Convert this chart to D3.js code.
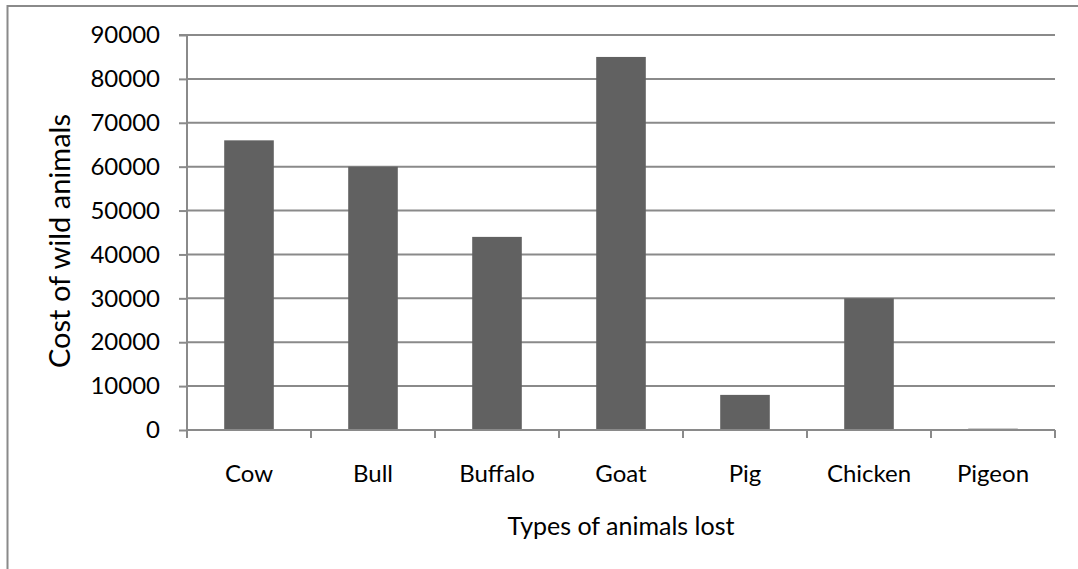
<!DOCTYPE html>
<html>
<head>
<meta charset="utf-8">
<script src="https://cdn.jsdelivr.net/npm/d3@7"></script>
<style>
  html, body { margin: 0; padding: 0; background: #fff; }
  svg { display: block; }
  text { font-family: Lato, "Open Sans", sans-serif; fill: #000; }
</style>
</head>
<body>
<svg id="chart" width="1078" height="569"></svg>
<script>
// Animal losses and their cost
const categories = ["Cow", "Bull", "Buffalo", "Goat", "Pig", "Chicken", "Pigeon"];
const costs = [66000, 60000, 44000, 85000, 8000, 30000, 300];
const yTicks = [0, 10000, 20000, 30000, 40000, 50000, 60000, 70000, 80000, 90000];
const xTitle = "Types of animals lost";
const yTitle = "Cost of wild animals";

const svg = d3.select("#chart");
const W = 1078, H = 569;
const plot = { left: 187, right: 1055, top: 35, bottom: 430 };
const gridColor = "#8a8a8a";
const barColor = "#616161";
const fontSize = 24;

// Outer chart frame (runs past the right and bottom edges)
svg.append("rect")
  .attr("x", 7.5).attr("y", 6)
  .attr("width", W + 10).attr("height", H + 10)
  .attr("fill", "none")
  .attr("stroke", gridColor)
  .attr("stroke-width", 2);

const x = d3.scaleBand()
  .domain(categories)
  .range([plot.left, plot.right])
  .paddingInner(0.6)
  .paddingOuter(0.3);

const y = d3.scaleLinear()
  .domain([0, 90000])
  .range([plot.bottom, plot.top]);

// Horizontal gridlines
svg.append("g")
  .selectAll("line")
  .data(yTicks.filter(d => d > 0))
  .join("line")
  .attr("x1", plot.left).attr("x2", plot.right)
  .attr("y1", d => y(d)).attr("y2", d => y(d))
  .attr("stroke", gridColor)
  .attr("stroke-width", 2);

// Bars
svg.append("g")
  .selectAll("rect")
  .data(categories.map((c, i) => ({ c, v: costs[i] })))
  .join("rect")
  .attr("x", d => x(d.c))
  .attr("width", x.bandwidth())
  .attr("y", d => y(d.v))
  .attr("height", d => y(0) - y(d.v))
  .attr("fill", barColor);

// Y axis
const yAxis = svg.append("g")
  .attr("transform", `translate(${plot.left},0)`)
  .call(d3.axisLeft(y).tickValues(yTicks).tickFormat(d3.format("d")).tickSize(8).tickPadding(19));
yAxis.select(".domain").attr("stroke", gridColor).attr("stroke-width", 2).attr("d", `M-8,${y(90000)}H0V${y(0)}`);
yAxis.selectAll(".tick line").attr("stroke", gridColor).attr("stroke-width", 2);
yAxis.selectAll(".tick text")
  .attr("font-size", fontSize)
  .attr("font-family", "Lato, sans-serif")
  .attr("fill", "#000");

// X axis with boundary ticks between categories
const xAxisG = svg.append("g");
xAxisG.append("line")
  .attr("x1", plot.left).attr("x2", plot.right)
  .attr("y1", y(0)).attr("y2", y(0))
  .attr("stroke", gridColor).attr("stroke-width", 2);
const step = x.step();
const bounds = d3.range(categories.length + 1).map(i => plot.left + i * step);
xAxisG.selectAll("line.bound")
  .data(bounds)
  .join("line")
  .attr("class", "bound")
  .attr("x1", d => d).attr("x2", d => d)
  .attr("y1", y(0)).attr("y2", y(0) + 8)
  .attr("stroke", gridColor).attr("stroke-width", 2);
xAxisG.selectAll("text")
  .data(categories)
  .join("text")
  .attr("x", d => x(d) + x.bandwidth() / 2)
  .attr("y", 482)
  .attr("text-anchor", "middle")
  .attr("font-size", fontSize)
  .text(d => d);

// Axis titles
svg.append("text")
  .attr("x", (plot.left + plot.right) / 2)
  .attr("y", 535)
  .attr("text-anchor", "middle")
  .attr("font-size", 25)
  .text(xTitle);

svg.append("text")
  .attr("transform", "translate(70,241) rotate(-90)")
  .attr("text-anchor", "middle")
  .attr("font-size", 29)
  .text(yTitle);
</script>
</body>
</html>
